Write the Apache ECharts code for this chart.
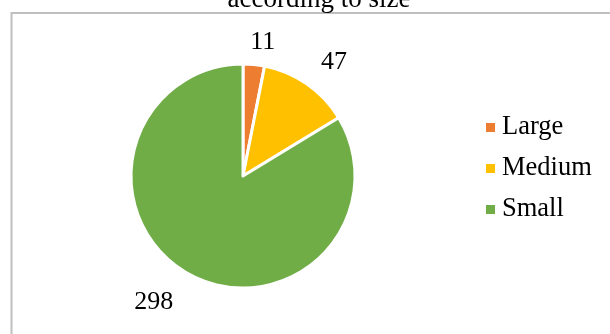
<!DOCTYPE html>
<html>
<head>
<meta charset="utf-8">
<script src="https://cdn.jsdelivr.net/npm/echarts@6/dist/echarts.min.js"></script>
<style>
  html, body { margin: 0; padding: 0; background: #ffffff; }
  #chart { width: 610px; height: 334px; }
</style>
</head>
<body>
<div id="chart"></div>
<script>
// Number of items per size class
const categories = ['Large', 'Medium', 'Small'];
const counts = [11, 47, 298];
const colors = ['#ED7D31', '#FFC000', '#70AD47'];
// Nudges for the value labels placed around the pie
const labelOffsets = [[-10, -8], [1, -10], [-3, 16]];

const FONT = "'Liberation Serif', 'Times New Roman', serif";

const chart = echarts.init(document.getElementById('chart'), null, { renderer: 'canvas' });

const pieData = categories.map((name, i) => ({
  name: name,
  value: counts[i],
  itemStyle: { color: colors[i] },
  label: { offset: labelOffsets[i] }
}));

chart.setOption({
  backgroundColor: '#ffffff',
  animation: false,
  title: {
    text: 'according to size',
    left: 314,
    textAlign: 'center',
    top: -19,
    textStyle: { fontFamily: FONT, fontSize: 27, fontWeight: 'normal', color: '#000000' }
  },
  legend: {
    orient: 'vertical',
    left: 481,
    top: 109,
    itemWidth: 9,
    itemHeight: 9,
    itemGap: 14,
    icon: 'rect',
    itemStyle: { borderWidth: 0 },
    textStyle: { fontFamily: FONT, fontSize: 26.5, color: '#000000', lineHeight: 26, padding: [0, 0, 0, 2] },
    data: categories
  },
  graphic: [{
    type: 'polyline',
    silent: true,
    shape: { points: [[11.5, 334], [11.5, 13], [610, 13]] },
    style: { stroke: '#bfbfbf', lineWidth: 2, fill: null }
  }],
  series: [{
    type: 'pie',
    center: [243, 176],
    radius: 112,
    startAngle: 90,
    clockwise: true,
    avoidLabelOverlap: false,
    itemStyle: { borderColor: '#ffffff', borderWidth: 3 },
    label: {
      show: true,
      position: 'outside',
      formatter: '{c}',
      fontFamily: FONT,
      fontSize: 26,
      color: '#000000'
    },
    labelLine: { show: false, length: 14, length2: 0 },
    emphasis: { disabled: true },
    data: pieData
  }]
});
</script>
</body>
</html>
